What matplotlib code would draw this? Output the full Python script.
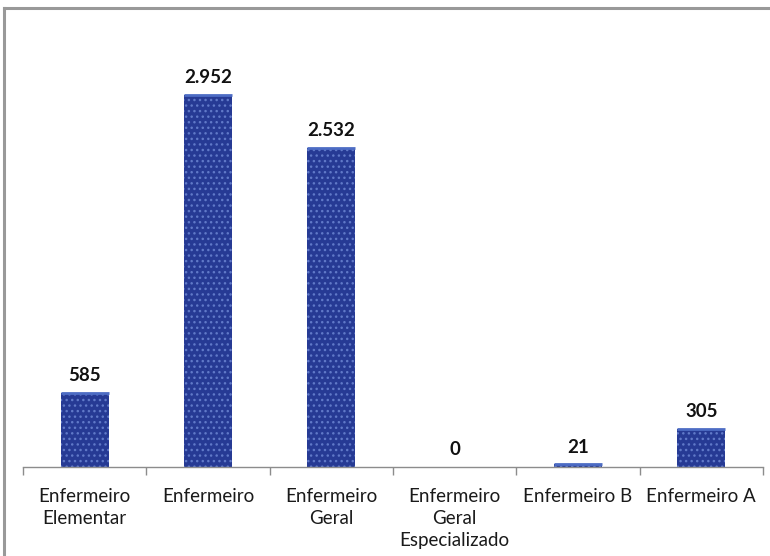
import matplotlib.pyplot as plt
from matplotlib.lines import Line2D

# Data
categories = ["Enfermeiro\nElementar", "Enfermeiro", "Enfermeiro\nGeral",
              "Enfermeiro\nGeral\nEspecializado", "Enfermeiro B", "Enfermeiro A"]
values = [585, 2952, 2532, 0, 21, 305]
value_labels = ["585", "2.952", "2.532", "0", "21", "305"]

plt.rcParams['font.family'] = ['Lato', 'DejaVu Sans']
plt.rcParams['hatch.linewidth'] = 1.0

fig = plt.figure(figsize=(7.7, 5.56), dpi=100)
W, H = 770, 556

# Plot area placed in pixel units
left, right, base, top = 23, 763, 467, 26
ax = fig.add_axes([left / W, 1 - base / H, (right - left) / W, (base - top) / H])

x = range(len(categories))
bars = ax.bar(x, values, width=0.39, color='#263a94', edgecolor='#6079c8',
              linewidth=0, hatch='...', zorder=2)

# Lighter rim along the top of each bar
for b in bars:
    if b.get_height() > 0:
        ax.plot([b.get_x(), b.get_x() + b.get_width()],
                [b.get_height(), b.get_height()],
                color='#4d6cc4', linewidth=2, solid_capstyle='butt', zorder=3)

# Value labels above bars
for i, (v, lab) in enumerate(zip(values, value_labels)):
    ax.text(i, v + 70, lab, ha='center', va='bottom', fontsize=13.5,
            fontweight='bold', color='#111111')

ax.set_xlim(-0.5, len(categories) - 0.5)
ax.set_ylim(0, 3500)

for s in ['top', 'right', 'left']:
    ax.spines[s].set_visible(False)
ax.spines['bottom'].set_color('#8c8c8c')
ax.spines['bottom'].set_linewidth(1)

ax.set_yticks([])
ax.set_xticks([i - 0.5 for i in range(len(categories) + 1)], minor=False)
ax.set_xticklabels([])
ax.tick_params(axis='x', length=6, color='#8c8c8c', width=1)
ax.set_xticks(list(x), minor=True)
ax.set_xticklabels(categories, minor=True, fontsize=13.5, color='#1a1a1a',
                   linespacing=1.38)
ax.tick_params(axis='x', which='minor', length=0, pad=15)

# Outer frame (left and top edges)
fig.add_artist(Line2D([4 / W, 4 / W], [0, 1 - 8 / H], color='#999999', linewidth=2.2))
fig.add_artist(Line2D([4 / W, 1], [1 - 8 / H, 1 - 8 / H], color='#999999', linewidth=2.2))

plt.savefig('out.png', dpi=100)
